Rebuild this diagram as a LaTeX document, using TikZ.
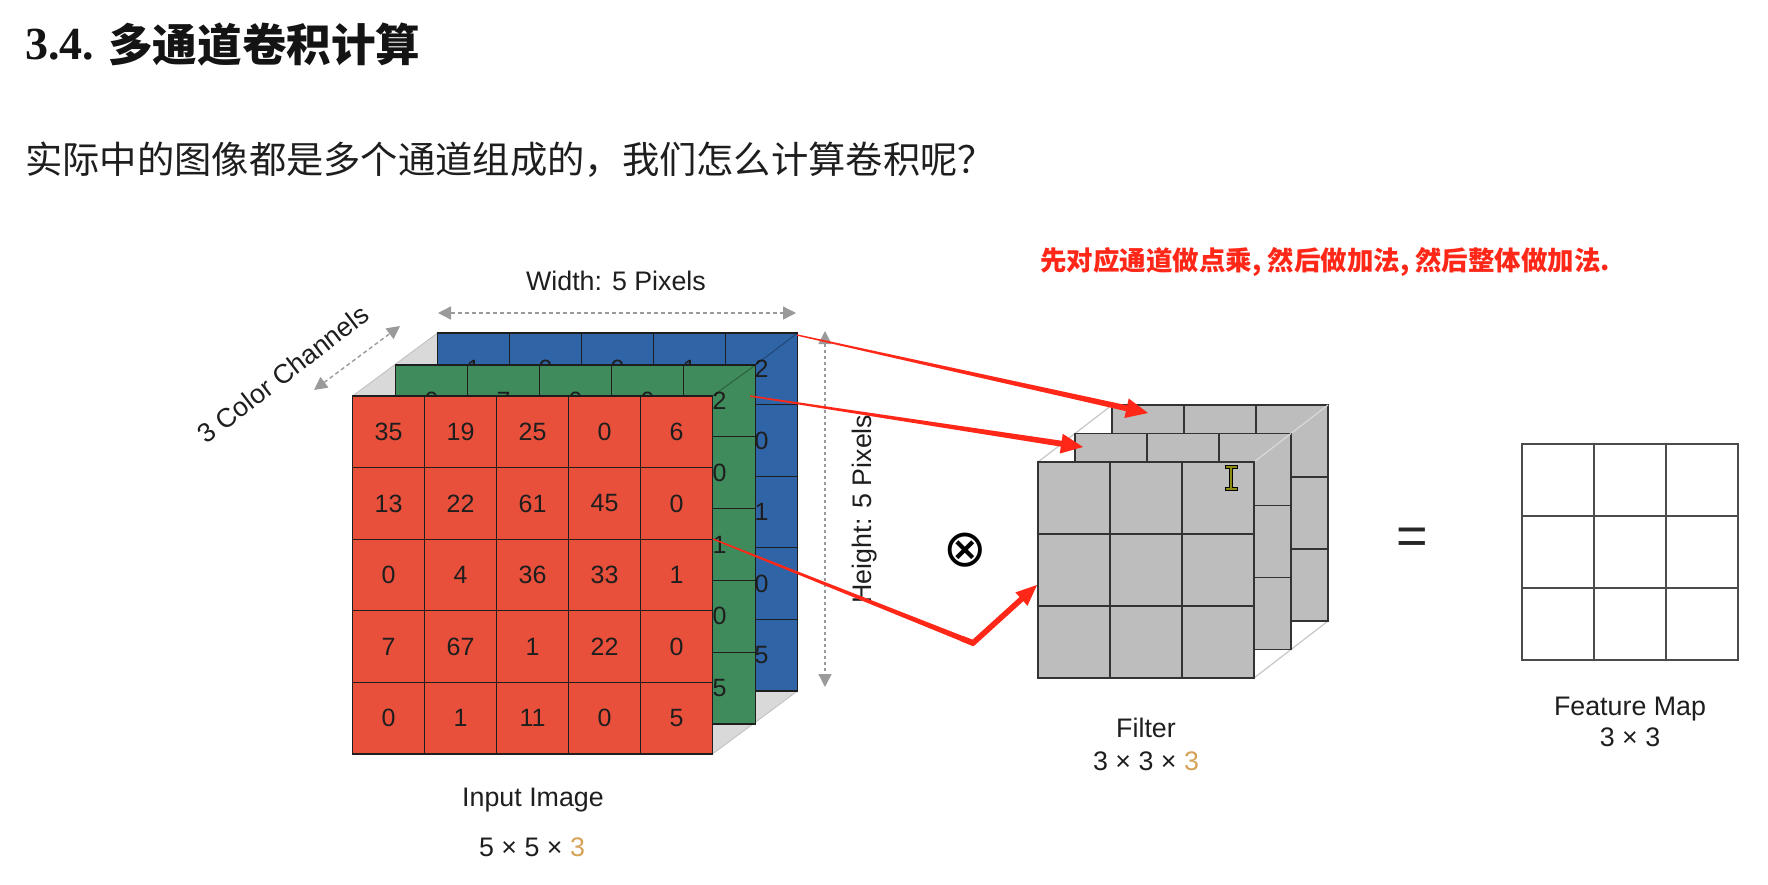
\documentclass[tikz,border=0pt]{standalone}
\usepackage{fontspec}
\setmainfont{Liberation Sans}
\newfontfamily\cjk{Noto Sans CJK SC}
\newfontfamily\serifb{Liberation Serif}
\newfontfamily\djv{DejaVu Sans}
\usetikzlibrary{calc,arrows.meta}

\definecolor{redc}{HTML}{E8503C}
\definecolor{greenc}{HTML}{3F8B5B}
\definecolor{bluec}{HTML}{2F65A6}
\definecolor{filt}{HTML}{BDBDBD}
\definecolor{boxgray}{HTML}{D9D9D9}
\definecolor{arrc}{HTML}{FF2718}
\definecolor{ink}{HTML}{1E1E1E}
\definecolor{orng}{HTML}{D6A256}
\definecolor{dimc}{HTML}{9A9A9A}
\definecolor{olivec}{HTML}{8C8C14}

\newcommand\mygrid[7]{%
  \foreach \k in {0,...,#3} \draw[#7] ({#1+\k*#5},#2) -- ({#1+\k*#5},{#2+#4*#6});
  \foreach \k in {0,...,#4} \draw[#7] (#1,{#2+\k*#6}) -- ({#1+#3*#5},{#2+\k*#6});
  \draw[#7] (#1,#2) rectangle ({#1+#3*#5},{#2+#4*#6});
}
\newcommand\mytaper[4]{%
  \fill[arrc] ($(#1)!#3!90:(#2)$) -- ($(#2)!#4!-90:(#1)$) -- ($(#2)!#4!90:(#1)$) -- ($(#1)!#3!-90:(#2)$) -- cycle;
}
\newcommand\myhead[3]{%
  \fill[arrc] (#2) -- ($(#1)!#3!90:(#2)$) -- ($(#1)!#3!-90:(#2)$) -- cycle;
}

\begin{document}
\begin{tikzpicture}[x=1pt,y=-1pt,
  cellnum/.style={font=\fontsize{25}{28}\selectfont, text=ink, inner sep=0pt},
  lbl/.style={font=\fontsize{26.8}{30}\selectfont, text=ink, inner sep=0pt},
  gridln/.style={draw=ink, line width=1.3pt},
  fgrid/.style={draw=black!80, line width=1.4pt},
  mapgrid/.style={draw=black!70, line width=1.8pt},
  edgeln/.style={draw=black, opacity=0.3, line width=1pt},
  boxln/.style={draw=black!22, line width=1.2pt},
  trln/.style={draw=black!15, line width=1.2pt},
  dimarrow/.style={draw=dimc, line width=1.4pt, dash pattern=on 4pt off 3pt,
    {Triangle[length=13pt,width=13pt]}-{Triangle[length=13pt,width=13pt]}},
]
\useasboundingbox (0,0) rectangle (1768,884);
\fill[white] (0,0) rectangle (1768,884);

% ---- headings
\node[anchor=west, inner sep=0pt, text=black!92, font=\serifb\bfseries\fontsize{46}{50}\selectfont] (t1) at (25,45) {3.4.};
\node[anchor=west, inner sep=0pt, text=black!92, font=\cjk\bfseries\fontsize{44.6}{50}\selectfont] (t2) at (108,45) {多通道卷积计算};
\node[anchor=west, inner sep=0pt, text=ink, font=\cjk\fontsize{37.3}{40}\selectfont] (sub) at (25,160) {实际中的图像都是多个通道组成的，我们怎么计算卷积呢？};
\node[anchor=west, inner sep=0pt, text=arrc, font=\cjk\bfseries\fontsize{26.5}{30}\selectfont] (note) at (1040,262) {先对应通道做点乘, 然后做加法, 然后整体做加法.};

% ---- input image box
\fill[boxgray] (352.5,396) -- (437.5,333) -- (797.5,333) -- (797.5,691) -- (712.5,754) -- (352.5,754) -- cycle;
\draw[black!25, line width=0.8pt] (352.5,396) -- (437.5,333);
\draw[black!25, line width=0.8pt] (712.5,754) -- (797.5,691);

% blue layer
\fill[bluec] (437.5,333) rectangle ++(360,358);
\mygrid{437.5}{333}{5}{5}{72}{71.6}{gridln}
\foreach \v [count=\c from 0] in {1,0,0,1,2}
  \node[cellnum] (b0\c) at ({437.5+36+\c*72},{333+35.8}) {\v};
\foreach \v [count=\r from 1] in {0,1,0,5}
  \node[cellnum] (b\r4) at ({437.5+36+4*72},{333+35.8+\r*71.6}) {\v};
\draw[edgeln] (755.5,365) -- (797.5,333);

% green layer
\fill[greenc] (395.5,365) rectangle ++(360,359);
\mygrid{395.5}{365}{5}{5}{72}{71.8}{gridln}
\foreach \v [count=\c from 0] in {0,7,0,0,2}
  \node[cellnum] (g0\c) at ({395.5+36+\c*72},{365+35.9}) {\v};
\foreach \v [count=\r from 1] in {0,1,0,5}
  \node[cellnum] (g\r4) at ({395.5+36+4*72},{365+35.9+\r*71.8}) {\v};
\draw[edgeln] (712.5,396) -- (755.5,365);

% red layer
\fill[redc] (352.5,396) rectangle ++(360,358);
\mygrid{352.5}{396}{5}{5}{72}{71.6}{gridln}
\foreach \row [count=\r from 0] in {{35,19,25,0,6},{13,22,61,45,0},{0,4,36,33,1},{7,67,1,22,0},{0,1,11,0,5}}
  \foreach \v [count=\c from 0] in \row
    \node[cellnum] (r\r\c) at ({352.5+36+\c*72},{396+35.8+\r*71.6}) {\v};

% dimension arrows
\coordinate (w1) at (438,313); \coordinate (w2) at (796,313);
\draw[dimarrow] (w1) -- (w2);
\coordinate (h1) at (825,331); \coordinate (h2) at (825,687);
\draw[dimarrow, dash pattern=on 3pt off 3pt] (h1) -- (h2);
\coordinate (c1) at (314,390); \coordinate (c2) at (400,326);
\draw[dimarrow] (c1) -- (c2);

% labels
\node[lbl, anchor=base] (wlbl) at (616,290) {Width: 5 Pixels};
\node[lbl, rotate=90] (hlbl) at (865,509) {Height: 5 Pixels};
\node[lbl, rotate=37.5] (clbl) at (283,374) {3 Color Channels};
\node[lbl, anchor=base] (inlbl) at (533,806) {Input Image};
\node[lbl, anchor=base] (indim) at (532,856) {5 × 5 × \textcolor{orng}{3}};
\node[lbl, anchor=base] (flbl) at (1146,737) {Filter};
\node[lbl, anchor=base] (fdim) at (1146,770) {3 × 3 × \textcolor{orng}{3}};
\node[lbl, anchor=base] (fmlbl) at (1630,715) {Feature Map};
\node[lbl, anchor=base] (fmdim) at (1630,746) {3 × 3};

% operators
\node[inner sep=0pt, text=black, font=\djv\fontsize{52}{56}\selectfont] (otimes) at (965,550) {⊗};
\node[inner sep=0pt, text=black!85, font=\fontsize{54}{58}\selectfont] (eq) at (1412,541) {=};

% ---- filter
\draw[boxln] (1038,462) -- (1112,405);
\draw[boxln] (1254,678) -- (1328,621);
\fill[filt] (1112,405) rectangle ++(216,216);
\mygrid{1112}{405}{3}{3}{72}{72}{fgrid}
\draw[trln] (1291,433.5) -- (1328,405);
\fill[filt] (1075,433.5) rectangle ++(216,216);
\mygrid{1075}{433.5}{3}{3}{72}{72}{fgrid}
\draw[trln] (1254,462) -- (1291,433.5);
\fill[filt] (1038,462) rectangle ++(216,216);
\mygrid{1038}{462}{3}{3}{72}{72}{fgrid}

% ---- feature map
\fill[white] (1522,444) rectangle ++(216,216);
\mygrid{1522}{444}{3}{3}{72}{72}{mapgrid}

% ---- red arrows
\coordinate (a1s) at (797,335); \coordinate (a1t) at (1148,413);
\coordinate (a1b) at ($(a1t)!22pt!(a1s)$); \coordinate (a1e) at ($(a1t)!18pt!(a1s)$);
\mytaper{a1s}{a1e}{0.7pt}{3pt}
\myhead{a1b}{a1t}{10pt}

\coordinate (a2s) at (750,396); \coordinate (a2t) at (1083,447);
\coordinate (a2b) at ($(a2t)!22pt!(a2s)$); \coordinate (a2e) at ($(a2t)!18pt!(a2s)$);
\mytaper{a2s}{a2e}{0.7pt}{3pt}
\myhead{a2b}{a2t}{10pt}

\coordinate (a3s) at (713,539); \coordinate (a3m) at (973,643); \coordinate (a3t) at (1037,585);
\coordinate (a3b) at ($(a3t)!21pt!(a3m)$); \coordinate (a3e) at ($(a3t)!17pt!(a3m)$);
\mytaper{a3s}{a3m}{0.7pt}{2.8pt}
\draw[arrc, line width=5.6pt, line join=miter] ($(a3m)!12pt!(a3s)$) -- (a3m) -- (a3e);
\myhead{a3b}{a3t}{9pt}

% ---- text cursor
\draw[black, line width=3.4pt] (1231,467) -- (1231,489) (1224.5,467) -- (1237.5,467) (1224.5,489) -- (1237.5,489);
\draw[olivec, line width=1.6pt] (1231,467) -- (1231,489) (1225.5,467) -- (1236.5,467) (1225.5,489) -- (1236.5,489);
\end{tikzpicture}
\end{document}
